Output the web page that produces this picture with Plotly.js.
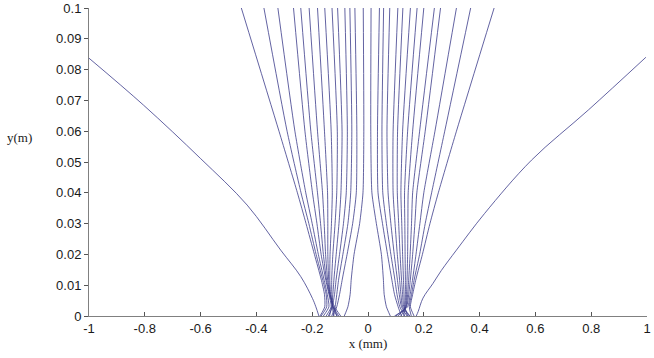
<!DOCTYPE html>
<html>
<head>
<meta charset="utf-8">
<script src="https://cdn.plot.ly/plotly-3.0.1.min.js"></script>
<style>
  body { margin: 0; background: #fff; }
  #chart { width: 654px; height: 358px; }
</style>
</head>
<body>
<div id="chart"></div>
<script>
let yLevels = [0.1, 0.06, 0.04, 0.03, 0.02, 0.012, 0.007, 0.003, 0]

// left bundle, innermost line first
let leftAt100 = [-0.017, -0.047, -0.065, -0.083, -0.109, -0.129, -0.155, -0.181, -0.211, -0.241, -0.267, -0.323, -0.373, -0.454]
let leftAt060 = [-0.015, -0.040, -0.058, -0.074, -0.093, -0.110, -0.132, -0.156, -0.181, -0.205, -0.226, -0.262, -0.290, -0.319]
let leftAt040 = [-0.018, -0.042, -0.062, -0.078, -0.097, -0.112, -0.128, -0.145, -0.163, -0.181, -0.199, -0.223, -0.240, -0.253]
let leftAt030 = [-0.030, -0.055, -0.072, -0.088, -0.104, -0.118, -0.131, -0.144, -0.157, -0.170, -0.183, -0.200, -0.212, -0.222]
let leftAt020 = [-0.050, -0.075, -0.090, -0.102, -0.114, -0.126, -0.136, -0.144, -0.152, -0.160, -0.168, -0.178, -0.186, -0.192]
let leftAt012 = [-0.060, -0.092, -0.105, -0.114, -0.122, -0.130, -0.137, -0.141, -0.145, -0.149, -0.152, -0.158, -0.163, -0.168]
let leftAt007 = [-0.064, -0.102, -0.112, -0.120, -0.126, -0.130, -0.134, -0.136, -0.136, -0.138, -0.140, -0.146, -0.150, -0.156]
let leftAt003 = [-0.072, -0.112, -0.118, -0.128, -0.130, -0.128, -0.126, -0.124, -0.120, -0.125, -0.132, -0.140, -0.148, -0.155]
let leftAt000 = [-0.085, -0.125, -0.130, -0.142, -0.138, -0.122, -0.112, -0.105, -0.098, -0.110, -0.150, -0.160, -0.168, -0.172]

// right bundle, innermost line first
let rightAt100 = [0.011, 0.041, 0.056, 0.078, 0.107, 0.125, 0.152, 0.176, 0.200, 0.238, 0.260, 0.317, 0.368, 0.452]
let rightAt060 = [0.010, 0.034, 0.050, 0.068, 0.090, 0.106, 0.124, 0.142, 0.160, 0.185, 0.205, 0.240, 0.275, 0.317]
let rightAt040 = [0.014, 0.036, 0.053, 0.072, 0.090, 0.105, 0.118, 0.131, 0.144, 0.160, 0.175, 0.200, 0.228, 0.252]
let rightAt030 = [0.030, 0.052, 0.066, 0.082, 0.097, 0.110, 0.121, 0.132, 0.143, 0.156, 0.168, 0.186, 0.205, 0.222]
let rightAt020 = [0.048, 0.070, 0.082, 0.094, 0.105, 0.115, 0.124, 0.133, 0.142, 0.151, 0.160, 0.172, 0.185, 0.195]
let rightAt012 = [0.055, 0.085, 0.096, 0.105, 0.113, 0.120, 0.127, 0.134, 0.140, 0.146, 0.152, 0.160, 0.166, 0.172]
let rightAt007 = [0.058, 0.095, 0.104, 0.112, 0.118, 0.124, 0.129, 0.134, 0.138, 0.142, 0.146, 0.151, 0.156, 0.160]
let rightAt003 = [0.066, 0.108, 0.114, 0.120, 0.124, 0.128, 0.131, 0.133, 0.135, 0.136, 0.138, 0.142, 0.148, 0.152]
let rightAt000 = [0.080, 0.120, 0.132, 0.140, 0.148, 0.150, 0.142, 0.128, 0.118, 0.108, 0.100, 0.095, 0.155, 0.165]

// the two wide outer curves
let outerLeftX = [-1, -0.805, -0.601, -0.433, -0.313, -0.241, -0.199, -0.187, -0.176]
let outerLeftY = [0.0837, 0.0685, 0.0512, 0.036, 0.0214, 0.0128, 0.0057, 0.003, 0]
let outerRightX = [0.173, 0.180, 0.197, 0.233, 0.263, 0.317, 0.418, 0.586, 0.790, 0.996]
let outerRightY = [0, 0.0015, 0.0058, 0.0106, 0.0148, 0.0214, 0.0333, 0.0506, 0.0669, 0.084]

let xTickVals = [-1, -0.8, -0.6, -0.4, -0.2, 0, 0.2, 0.4, 0.6, 0.8, 1]
let xTickText = ['-1', '-0.8', '-0.6', '-0.4', '-0.2', '0', '0.2', '0.4', '0.6', '0.8', '1']
let yTickVals = [0, 0.01, 0.02, 0.03, 0.04, 0.05, 0.06, 0.07, 0.08, 0.09, 0.1]
let yTickText = ['0', '0.01', '0.02', '0.03', '0.04', '0.05', '0.06', '0.07', '0.08', '0.09', '0.1']

let lineColor = '#3b3b8a'

function bundle(levels) {
  let traces = []
  for (let i = 0; i < levels[0].length; i++) {
    traces.push({
      x: levels.map(function (row) { return row[i] }),
      y: yLevels,
      mode: 'lines',
      line: { color: lineColor, width: 0.8, shape: 'spline', smoothing: 0.6 },
      hoverinfo: 'skip'
    })
  }
  return traces
}

let leftLevels = [leftAt100, leftAt060, leftAt040, leftAt030, leftAt020, leftAt012, leftAt007, leftAt003, leftAt000]
let rightLevels = [rightAt100, rightAt060, rightAt040, rightAt030, rightAt020, rightAt012, rightAt007, rightAt003, rightAt000]

let data = bundle(leftLevels).concat(bundle(rightLevels))
data.push({ x: outerLeftX, y: outerLeftY, mode: 'lines', line: { color: lineColor, width: 0.8, shape: 'spline', smoothing: 1 } })
data.push({ x: outerRightX, y: outerRightY, mode: 'lines', line: { color: lineColor, width: 0.8, shape: 'spline', smoothing: 1 } })

let tickFont = { family: 'Liberation Sans, Arial, sans-serif', size: 13, color: '#1a1a1a' }

Plotly.newPlot('chart', data, {
  width: 654,
  height: 358,
  showlegend: false,
  paper_bgcolor: '#ffffff',
  plot_bgcolor: '#ffffff',
  margin: { l: 89, r: 7, t: 8, b: 42 },
  xaxis: {
    range: [-1, 1],
    tickvals: xTickVals,
    ticktext: xTickText,
    ticks: 'inside',
    ticklen: 4,
    tickcolor: '#555',
    showline: true,
    linecolor: '#808080',
    linewidth: 1,
    showgrid: false,
    zeroline: false,
    tickfont: tickFont,
    title: { text: 'x (mm)', font: { family: 'Liberation Serif, Times New Roman, serif', size: 13, color: '#1a1a1a' }, standoff: 2 }
  },
  yaxis: {
    range: [0, 0.1],
    tickvals: yTickVals,
    ticktext: yTickText,
    ticks: 'outside',
    ticklen: 4,
    tickcolor: '#555',
    showline: true,
    linecolor: '#808080',
    linewidth: 1,
    showgrid: false,
    zeroline: false,
    tickfont: tickFont
  },
  annotations: [{
    text: 'y(m)',
    xref: 'paper', yref: 'paper',
    x: -0.124, y: 0.581,
    xanchor: 'center', yanchor: 'middle',
    showarrow: false,
    font: { family: 'Liberation Serif, Times New Roman, serif', size: 13, color: '#1a1a1a' }
  }]
}, { staticPlot: true })
</script>
</body>
</html>
